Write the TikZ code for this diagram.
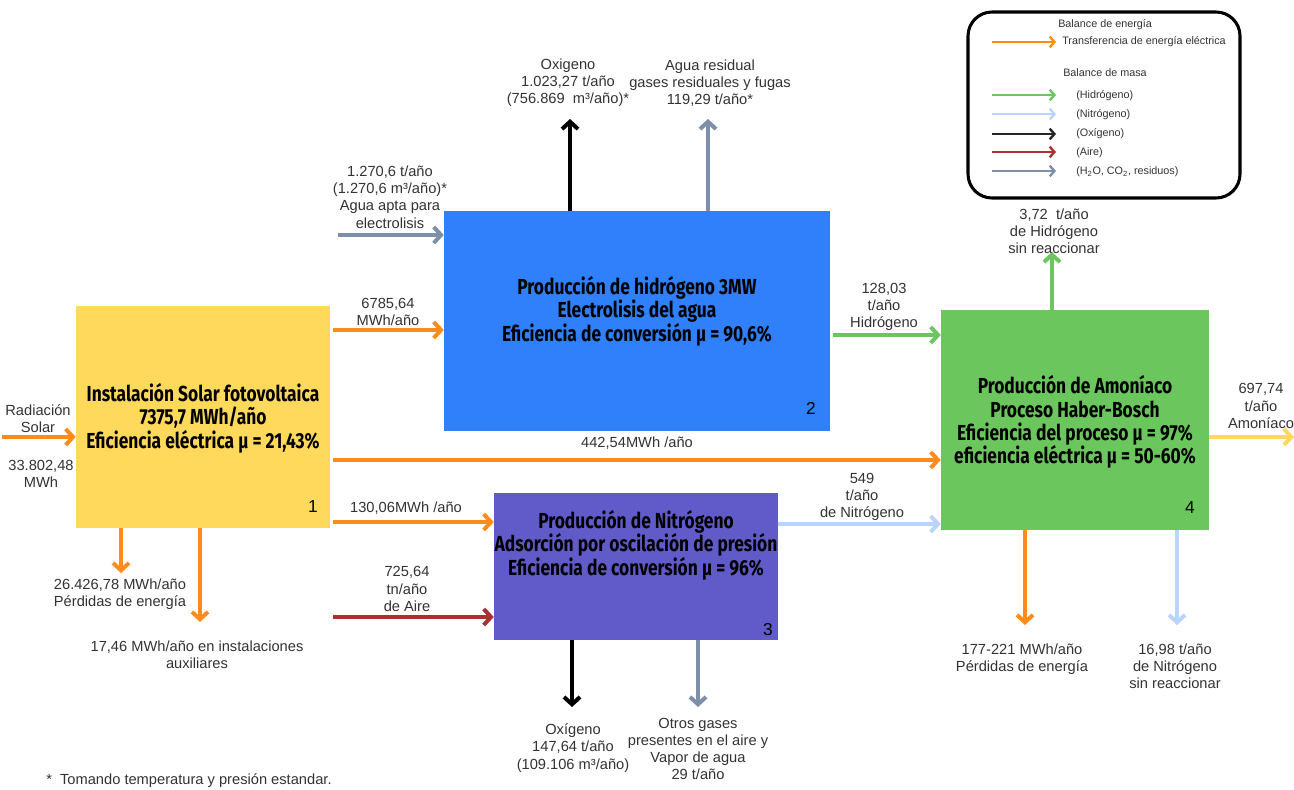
\documentclass[tikz,border=0pt]{standalone}
\usepackage{fontspec}
\setmainfont{Liberation Sans}
\newfontfamily\boxfont[FakeStretch=0.8]{Fira Sans}
\usetikzlibrary{arrows.meta,calc}
\definecolor{corange}{HTML}{FF8C1A}
\definecolor{cgreen}{HTML}{6CC65F}
\definecolor{clblue}{HTML}{B8D4FF}
\definecolor{cred}{HTML}{A83232}
\definecolor{cgrey}{HTML}{7D90A8}
\definecolor{cyellow}{HTML}{FFD95C}
\definecolor{cblue}{HTML}{2F80FA}
\definecolor{cpurple}{HTML}{605BC8}
\definecolor{cbox4}{HTML}{6BC65E}
\definecolor{ctext}{HTML}{333333}
\tikzset{
  blockbox/.style={draw=none, inner sep=0pt},
  title/.style={align=center, text=black, font=\boxfont\bfseries\fontsize{16.3}{17.5}\selectfont},
  num/.style={text=black, font=\fontsize{13}{13}\selectfont, inner sep=0pt},
  lbl/.style={align=center, text=ctext, font=\fontsize{11}{12.9}\selectfont, inner sep=0pt},
  leg/.style={anchor=west, text=ctext, font=\fontsize{8.1}{9}\selectfont, inner sep=0pt},
  flow/.style={line width=3pt, -{Straight Barb[length=5.5pt,width=12pt]}},
  legflow/.style={line width=1.8pt, -{Straight Barb[length=3.5pt,width=8pt]}},
}
\begin{document}
\begin{tikzpicture}[x=0.75pt,y=-0.75pt]
\useasboundingbox (0,0) rectangle (1294,789);
\fill[white] (0,0) rectangle (1294,789);

% blocks
\node[blockbox, fill=cyellow, minimum width=190.5pt, minimum height=166.5pt] (b1) at (203,417) {};
\node[blockbox, fill=cblue, minimum width=289.5pt, minimum height=165pt] (b2) at (637,321) {};
\node[blockbox, fill=cpurple, minimum width=213pt, minimum height=110.25pt] (b3) at (636,566.5) {};
\node[blockbox, fill=cbox4, minimum width=201pt, minimum height=165pt] (b4) at (1075,420) {};

\node[title] (t1) at (203,418) {Instalación Solar fotovoltaica\\7375,7 MWh/año\\Eficiencia eléctrica μ = 21,43\%};
\node[title] (t2) at (637,311) {Producción de hidrógeno 3MW\\Electrolisis del agua\\Eficiencia de conversión μ = 90,6\%};
\node[title] (t3) at (636,545) {Producción de Nitrógeno\\Adsorción por oscilación de presión\\Eficiencia de conversión μ = 96\%};
\node[title] (t4) at (1075,422) {Producción de Amoníaco\\Proceso Haber-Bosch\\Eficiencia del proceso μ = 97\%\\eficiencia eléctrica μ = 50-60\%};

\node[num] (n1) at (313,507) {1};
\node[num] (n2) at (811,408) {2};
\node[num] (n3) at (768,630) {3};
\node[num] (n4) at (1190,508) {4};

% free ends
\coordinate (rad) at (2,437);
\coordinate (water) at (338,235);
\coordinate (air) at (333,617);
\coordinate (o2top) at (570,119);
\coordinate (wtop) at (708,119);
\coordinate (loss1) at (121,573);
\coordinate (aux1) at (200,622);
\coordinate (h2top) at (1052,252);
\coordinate (nh3) at (1294,437);
\coordinate (loss4) at (1025,625);
\coordinate (n2out) at (1177,625);
\coordinate (o2bot) at (572,707);
\coordinate (gbot) at (698,707);

% connectors
\draw[flow, corange] (rad) -- (b1.west |- rad);
\draw[flow, corange] ([xshift=2.25pt]b1.east |- 0,330) -- (b2.west |- 0,330);
\draw[flow, corange] ([xshift=2.25pt]b1.east |- 0,460) -- (b4.west |- 0,460);
\draw[flow, corange] ([xshift=2.25pt]b1.east |- 0,522) -- (b3.west |- 0,522);
\draw[flow, corange] (b1.south -| loss1) -- (loss1);
\draw[flow, corange] (b1.south -| aux1) -- (aux1);
\draw[flow, cred] (air) -- (b3.west |- air);
\draw[flow, cgrey] (water) -- (b2.west |- water);
\draw[flow, black] (b2.north -| o2top) -- (o2top);
\draw[flow, cgrey] (b2.north -| wtop) -- (wtop);
\draw[flow, cgreen] ([xshift=2.25pt]b2.east |- 0,335) -- (b4.west |- 0,335);
\draw[flow, clblue] (b3.east |- 0,524) -- (b4.west |- 0,524);
\draw[flow, cgreen] (b4.north -| h2top) -- (h2top);
\draw[flow, cyellow] (b4.east |- nh3) -- (nh3);
\draw[flow, corange] (b4.south -| loss4) -- (loss4);
\draw[flow, clblue] (b4.south -| n2out) -- (n2out);
\draw[flow, black] (b3.south -| o2bot) -- (o2bot);
\draw[flow, cgrey] (b3.south -| gbot) -- (gbot);

% labels
\node[lbl] (lrad) at (38,419) {Radiación\\Solar};
\node[lbl] (lradv) at (41,474) {33.802,48\\MWh};
\node[lbl] (l12) at (388,312) {6785,64\\MWh/año};
\node[lbl] (l14) at (637,443) {442,54MWh /año};
\node[lbl] (l13) at (406,508) {130,06MWh /año};
\node[lbl] (lloss1) at (120,594) {26.426,78 MWh/año\\Pérdidas de energía};
\node[lbl] (laux) at (197,655) {17,46 MWh/año en instalaciones\\auxiliares};
\node[lbl] (lair) at (407,589) {725,64\\tn/año\\de Aire};
\node[lbl] (lwater) at (390,197) {1.270,6 t/año\\(1.270,6 m³/año)*\\Agua apta para\\electrolisis};
\node[lbl] (lo2top) at (568,83) {Oxigeno\\1.023,27 t/año\\(756.869\ \ m³/año)*};
\node[lbl] (lwtop) at (710,83) {Agua residual\\gases residuales y fugas\\119,29 t/año*};
\node[lbl] (lh2) at (884,307) {128,03\\t/año\\Hidrógeno};
\node[lbl] (ln2) at (862,497) {549\\t/año\\de Nitrógeno};
\node[lbl] (lh2top) at (1054,231) {3,72\ \ t/año\\de Hidrógeno\\sin reaccionar};
\node[lbl] (lnh3) at (1261,406) {697,74\\t/año\\Amoníaco};
\node[lbl] (lloss4) at (1022,659) {177-221 MWh/año\\Pérdidas de energía};
\node[lbl] (ln2out) at (1175,666) {16,98 t/año\\de Nitrógeno\\sin reaccionar};
\node[lbl] (lo2bot) at (573,748) {Oxígeno\\147,64 t/año\\(109.106 m³/año)};
\node[lbl] (lgbot) at (698,749) {Otros gases\\presentes en el aire y\\Vapor de agua\\29 t/año};
\node[lbl, anchor=west] (foot) at (46,781) {*\ \ Tomando temperatura y presión estandar.};

% legend
\node[draw=black, line width=2.3pt, rounded corners=18pt, minimum width=204pt, minimum height=139.5pt, inner sep=0pt] (legend) at (1104,105) {};
\node[leg] (lg0) at (1058,25) {Balance de energía};
\coordinate (la0) at (992,42); \coordinate (lb0) at (1056,42);
\draw[legflow, corange] (la0) -- (lb0);
\node[leg] (lg1) at (1062,42) {Transferencia de energía eléctrica};
\node[leg] (lg2) at (1063,73) {Balance de masa};
\coordinate (la1) at (992,95); \coordinate (lb1) at (1056,95);
\coordinate (la2) at (992,114); \coordinate (lb2) at (1056,114);
\coordinate (la3) at (992,134); \coordinate (lb3) at (1056,134);
\coordinate (la4) at (992,152); \coordinate (lb4) at (1056,152);
\coordinate (la5) at (992,171); \coordinate (lb5) at (1056,171);
\draw[legflow, cgreen] (la1) -- (lb1);
\draw[legflow, clblue] (la2) -- (lb2);
\draw[legflow, black!85] (la3) -- (lb3);
\draw[legflow, cred] (la4) -- (lb4);
\draw[legflow, cgrey] (la5) -- (lb5);
\node[leg] (lh) at (1076,96) {(Hidrógeno)};
\node[leg] (ln) at (1076,115) {(Nitrógeno)};
\node[leg] (lo) at (1076,134) {(Oxígeno)};
\node[leg] (la) at (1076,153) {(Aire)};
\node[leg] (lr) at (1076,172) {(H\textsubscript{2}O, CO\textsubscript{2}, residuos)};
\end{tikzpicture}
\end{document}
